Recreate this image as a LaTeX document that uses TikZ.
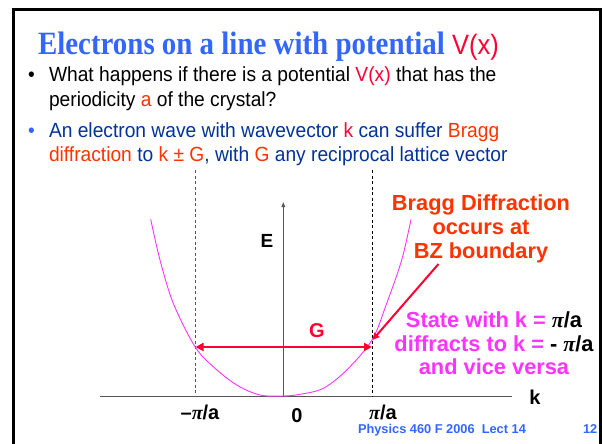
\documentclass[tikz,border=0pt]{standalone}
\usepackage{fontspec}
\setmainfont{Liberation Sans}
\newfontfamily\bodyfont{Liberation Sans}[FakeStretch=0.937]
\newfontfamily\titlefont{Liberation Serif}[FakeStretch=0.89]
\newfontfamily\vxfont{Liberation Sans}[FakeStretch=0.91]
\newfontfamily\greekfont{Liberation Serif}
\usetikzlibrary{arrows.meta}
\definecolor{tblue}{HTML}{3366FF}
\definecolor{vred}{HTML}{FF0033}
\definecolor{navy}{HTML}{003399}
\definecolor{ored}{HTML}{FF3300}
\definecolor{mag}{HTML}{FF33FF}
\definecolor{axgray}{HTML}{555555}
\newcommand{\bodyfs}{\bodyfont\fontsize{20.5}{24}\selectfont}
\newcommand{\lblfs}{\fontsize{21.8}{24}\selectfont\bfseries}
\newcommand{\mypi}{{\greekfont\bfseries\itshape π}}
\tikzset{
  txt/.style={inner sep=0pt, outer sep=0pt, anchor=base west},
  ctxt/.style={inner sep=0pt, outer sep=0pt, anchor=base, align=center},
  redarrow/.style={draw=vred, line width=2.4pt, -{Triangle[length=8pt,width=8pt]}},
  axisline/.style={draw=axgray, line width=1pt},
  bzline/.style={draw, dashed, line width=0.8pt, dash pattern=on 3pt off 2.5pt},
}
\begin{document}
\begin{tikzpicture}[x=1pt,y=-1pt]
\useasboundingbox (0,0) rectangle (602,444);
% slide frame
\draw[line width=3pt] (13.5,444) -- (13.5,10) -- (600,10) -- (600,444);
% title
\node[txt] (title) at (38,55) {\titlefont\fontsize{32.5}{36}\selectfont\bfseries\color{tblue}Electrons on a line with potential \vxfont\fontsize{28}{36}\selectfont\mdseries\color{vred}V(x)};
% bullets
\node[txt] (b1) at (28,81.5) {\bodyfs •};
\node[txt] (l1) at (49,81.5) {\bodyfs What happens if there is a potential {\color{vred}V(x)} that has the};
\node[txt] (l2) at (49,106) {\bodyfs periodicity {\color{ored}a} of the crystal?};
\node[txt] (b2) at (28,137.3) {\bodyfs\color{tblue}•};
\node[txt] (l3) at (49,137.3) {\bodyfs\color{navy}An electron wave with wavevector {\color{vred}k} can suffer {\color{ored}Bragg}};
\node[txt] (l4) at (49,161.7) {\bodyfs\color{navy}{\color{ored}diffraction} to {\color{ored}k ± G}, with {\color{ored}G} any reciprocal lattice vector};
% axes
\coordinate (xl) at (100,396);
\coordinate (xr) at (512,396);
\coordinate (o) at (283.3,396);
\coordinate (yt) at (283.3,202);
\draw[axisline] (xl) -- (xr);
\draw[axisline, -{Triangle[length=5pt,width=3.5pt]}] (o) -- (yt);
% BZ boundaries
\coordinate (bzlt) at (195,170);
\coordinate (bzlb) at (195,396);
\coordinate (bzrt) at (372.5,170);
\coordinate (bzrb) at (372.5,396);
\draw[bzline, draw=axgray] (bzlt) -- (bzlb);
\draw[bzline, draw=black] (bzrt) -- (bzrb);
% dispersion curve
\draw[mag, line width=0.9pt] plot[smooth, tension=0.55] coordinates {
 (150.7,219.3) (160,260) (173.3,303.3) (195,346.7) (213.3,366.7) (236.7,385)
 (260,395) (283,396) (300,394.3) (323.3,388.3) (346.7,370) (372,340)
 (386.7,303.3) (401.7,260) (411,219.3)};
% G arrow
\coordinate (gl) at (195.5,347);
\coordinate (gr) at (372,347);
\draw[redarrow, {Triangle[length=8pt,width=8pt]}-{Triangle[length=8pt,width=8pt]}] (gl) -- (gr);
\node[ctxt] (G) at (317,337) {\fontsize{20}{24}\selectfont\bfseries\color{vred}G};
% labels
\node[ctxt] (E) at (267,247) {\fontsize{19}{22}\selectfont\bfseries E};
\node[ctxt] (k) at (535,404) {\fontsize{20}{22}\selectfont\bfseries k};
\node[ctxt] (mpa) at (200,419) {\fontsize{20}{22}\selectfont\bfseries –\mypi/a};
\node[ctxt] (zero) at (297,422) {\fontsize{20}{22}\selectfont\bfseries 0};
\node[ctxt] (pa) at (383,419) {\fontsize{20}{22}\selectfont\bfseries \mypi/a};
% Bragg text
\node[ctxt] (bragg) at (481,210) {\lblfs\color{ored}Bragg Diffraction};
\node[ctxt] (occ) at (481,234) {\lblfs\color{ored}occurs at};
\node[ctxt] (bz) at (481,258.5) {\lblfs\color{ored}BZ boundary};
\coordinate (da) at (438.5,264);
\coordinate (db) at (372.5,340);
\draw[redarrow, line width=2pt, -{Triangle[length=7pt,width=6.5pt]}] (da) -- (db);
% state text
\node[ctxt] (s1) at (494,327.5) {\lblfs\color{mag}State with k = {\color{black}\mypi/a}};
\node[ctxt] (s2) at (494,351) {\lblfs\color{mag}diffracts to k = {\color{black}- \mypi/a}};
\node[ctxt] (s3) at (494,374.5) {\lblfs\color{mag}and vice versa};
% footer
\node[txt] (foot) at (358,433) {\fontsize{12.8}{14}\selectfont\bfseries\color{tblue}Physics 460 F 2006\ \ Lect 14};
\node[txt] (num) at (583,433) {\fontsize{12.8}{14}\selectfont\bfseries\color{tblue}12};
\end{tikzpicture}
\end{document}
